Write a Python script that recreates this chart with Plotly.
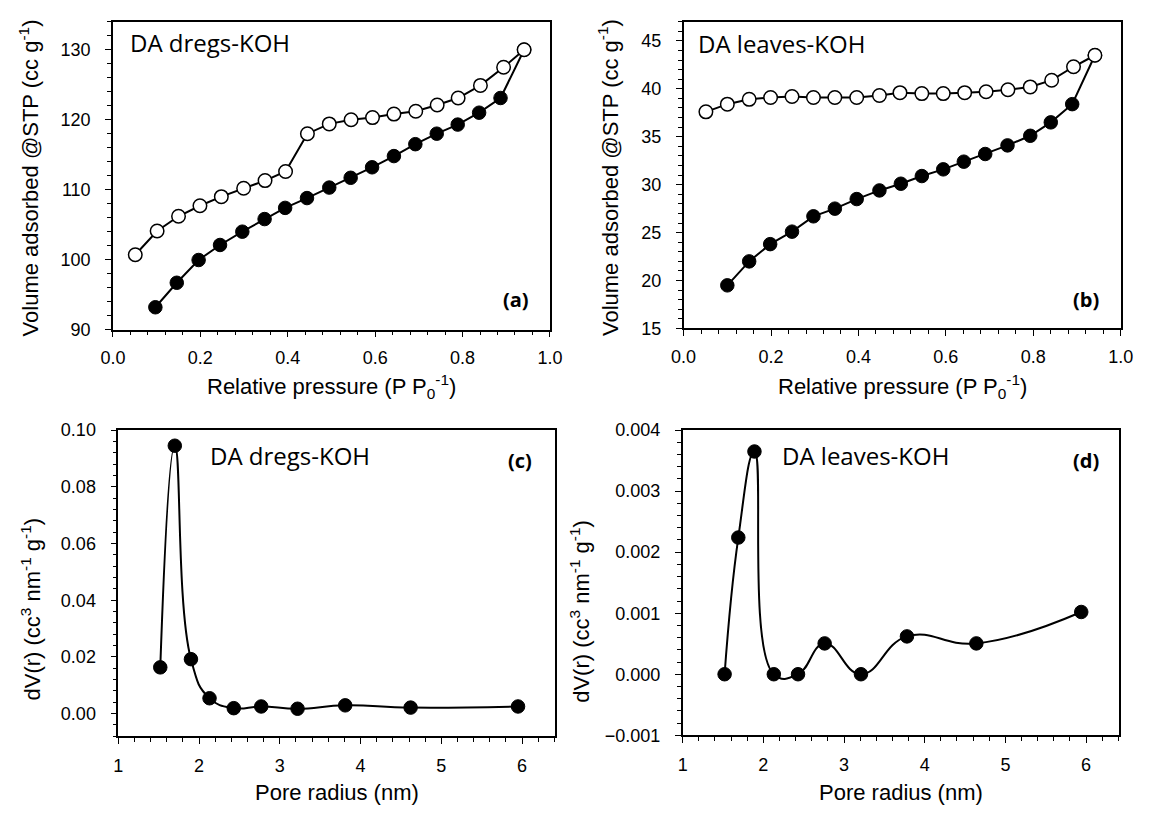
import plotly.graph_objects as go

W, H = 1152, 815

# ---------------- data ----------------
# (a) DA dregs-KOH isotherm
a_ads_x = [0.097, 0.146, 0.196, 0.245, 0.296, 0.347, 0.394, 0.444, 0.495, 0.544,
           0.593, 0.643, 0.692, 0.741, 0.789, 0.838, 0.887, 0.941]
a_ads_y = [93.2, 96.7, 99.95, 102.1, 104.0, 105.8, 107.4, 108.8, 110.3, 111.7,
           113.2, 114.8, 116.5, 118.0, 119.3, 121.0, 123.1, 130.0]
a_des_x = [0.051, 0.101, 0.150, 0.199, 0.248, 0.299, 0.348, 0.395, 0.445, 0.495,
           0.545, 0.594, 0.643, 0.693, 0.742, 0.790, 0.841, 0.894, 0.941]
a_des_y = [100.7, 104.1, 106.2, 107.7, 109.0, 110.2, 111.3, 112.6, 118.0, 119.4,
           120.0, 120.3, 120.8, 121.2, 122.1, 123.1, 124.9, 127.5, 130.0]

# (b) DA leaves-KOH isotherm
b_ads_x = [0.100, 0.150, 0.198, 0.248, 0.297, 0.346, 0.396, 0.448, 0.497, 0.545,
           0.594, 0.641, 0.690, 0.741, 0.793, 0.840, 0.889, 0.941]
b_ads_y = [19.5, 22.0, 23.8, 25.1, 26.7, 27.5, 28.5, 29.4, 30.1, 30.9,
           31.6, 32.4, 33.2, 34.1, 35.1, 36.5, 38.4, 43.5]
b_des_x = [0.051, 0.100, 0.150, 0.199, 0.248, 0.297, 0.346, 0.396, 0.448, 0.495,
           0.545, 0.594, 0.643, 0.692, 0.742, 0.793, 0.842, 0.892, 0.941]
b_des_y = [37.6, 38.4, 38.9, 39.1, 39.2, 39.1, 39.1, 39.1, 39.3, 39.6,
           39.5, 39.5, 39.6, 39.7, 39.9, 40.2, 40.9, 42.3, 43.5]

# (c) DA dregs-KOH pore size distribution
c_r = [1.52, 1.70, 1.90, 2.13, 2.43, 2.77, 3.22, 3.81, 4.62, 5.95]
c_dv = [0.0163, 0.0945, 0.0192, 0.0054, 0.0019, 0.0025, 0.0017, 0.0029, 0.0021, 0.0025]

# (d) DA leaves-KOH pore size distribution
d_r = [1.52, 1.69, 1.89, 2.13, 2.43, 2.76, 3.21, 3.78, 4.64, 5.94]
d_dv = [0.0, 0.00224, 0.00365, 0.0, 0.0, 0.000505, 0.0, 0.00062, 0.000505, 0.00102]

# labels
iso_xtitle = "Relative pressure (P P<sub>0</sub><sup>-1</sup>)"
iso_ytitle = "Volume adsorbed @STP (cc g<sup>-1</sup>)"
psd_xtitle = "Pore radius (nm)"
psd_ytitle = "dV(r) (cc<sup>3</sup> nm<sup>-1</sup> g<sup>-1</sup>)"
labels = ["DA dregs-KOH", "DA leaves-KOH", "DA dregs-KOH", "DA leaves-KOH"]
tags = ["(a)", "(b)", "(c)", "(d)"]

# ---------------- layout helpers ----------------
def fx(p):
    return p / W

def fy(p):
    return 1 - p / H

TICKFONT = dict(family="Liberation Sans, Arial, sans-serif", size=18, color="black")
TITLEFONT = dict(family="Liberation Sans, Arial, sans-serif", size=22, color="black")
LABFONT = dict(family="Open Sans, sans-serif", size=24, color="black")
PANFONT = dict(family="Open Sans, sans-serif", size=20, color="black")


def axis(domain, rng, dtick, mdtick, fmt, anchor, standoff):
    return dict(
        domain=domain, range=rng, anchor=anchor, dtick=dtick, tick0=0,
        tickformat=fmt, showgrid=False, zeroline=False,
        showline=True, linecolor="black", linewidth=1.5, mirror=True,
        ticks="outside", ticklen=6, tickwidth=1.4, tickcolor="black",
        tickfont=TICKFONT, ticklabelstandoff=standoff,
        minor=dict(ticks="outside", ticklen=4, tickwidth=1.2, tickcolor="black",
                   dtick=mdtick, tick0=0, showgrid=False),
        fixedrange=True,
    )


fig = go.Figure()

filled = dict(size=13.5, color="black", line=dict(color="black", width=1))
hollow = dict(size=13.5, color="white", line=dict(color="black", width=1.5))
ln = dict(color="black", width=2)

# (a)
fig.add_trace(go.Scatter(x=a_ads_x, y=a_ads_y, mode="lines+markers", line=ln,
                         marker=filled, xaxis="x", yaxis="y", showlegend=False))
fig.add_trace(go.Scatter(x=a_des_x, y=a_des_y, mode="lines+markers", line=ln,
                         marker=hollow, xaxis="x", yaxis="y", showlegend=False))
# (b)
fig.add_trace(go.Scatter(x=b_ads_x, y=b_ads_y, mode="lines+markers", line=ln,
                         marker=filled, xaxis="x2", yaxis="y2", showlegend=False))
fig.add_trace(go.Scatter(x=b_des_x, y=b_des_y, mode="lines+markers", line=ln,
                         marker=hollow, xaxis="x2", yaxis="y2", showlegend=False))
# (c)
fig.add_trace(go.Scatter(x=c_r, y=c_dv, mode="lines+markers",
                         line=dict(color="black", width=2, shape="spline", smoothing=1.3),
                         marker=filled, xaxis="x3", yaxis="y3", showlegend=False))
# (d)
fig.add_trace(go.Scatter(x=d_r, y=d_dv, mode="lines+markers",
                         line=dict(color="black", width=2, shape="spline", smoothing=1.3),
                         marker=filled, xaxis="x4", yaxis="y4", showlegend=False))

fig.update_layout(
    width=W, height=H, margin=dict(l=0, r=0, t=0, b=0),
    paper_bgcolor="white", plot_bgcolor="white",
    xaxis=axis([fx(102.3), fx(549.3)], [0, 1], 0.2, 0.04, ".1f", "y", 5),
    yaxis=axis([fy(327.7), fy(12)], [90, 134], 10, 2, "d", "x", 11),
    xaxis2=axis([fx(686.1), fx(1133.3)], [0, 1], 0.2, 0.04, ".1f", "y2", 5),
    yaxis2=axis([fy(326.5), fy(12)], [15, 47], 5, 1, "d", "x2", 11),
    xaxis3=axis([fx(107.7), fx(554.7)], [1, 6.41], 1, 0.2, "d", "y3", 6),
    yaxis3=axis([fy(744.5), fy(430.7)], [-0.008, 0.1], 0.02, 0.004, ".2f", "x3", 11),
    xaxis4=axis([fx(685.1), fx(1131.7)], [1, 6.41], 1, 0.2, "d", "y4", 6),
    yaxis4=axis([fy(743.5), fy(430.7)], [-0.001, 0.004], 0.001, 0.0002, ".3f", "x4", 11),
)

ann = []
def add_text(text, x, y, font, xanchor="center", yanchor="middle", angle=0):
    ann.append(dict(text=text, x=fx(x), y=fy(y), xref="paper", yref="paper",
                    showarrow=False, font=font, xanchor=xanchor, yanchor=yanchor,
                    textangle=angle))

# axis titles
add_text(iso_xtitle, 326, 386, TITLEFONT)
add_text(iso_xtitle, 910, 386, TITLEFONT)
add_text(psd_xtitle, 331, 802, TITLEFONT)
add_text(psd_xtitle, 909, 802, TITLEFONT)
add_text(iso_ytitle, 16, 172, TITLEFONT, angle=-90)
add_text(iso_ytitle, 609, 172, TITLEFONT, angle=-90)
add_text(psd_ytitle, 18, 614, TITLEFONT, angle=-90)
add_text(psd_ytitle, 580, 616, TITLEFONT, angle=-90)

# in-panel labels
add_text(labels[0], 118, 33, LABFONT, xanchor="left")
add_text(labels[1], 699, 34, LABFONT, xanchor="left")
add_text(labels[2], 200, 457, LABFONT, xanchor="left")
add_text(labels[3], 785, 457, LABFONT, xanchor="left")
add_text("<b>%s</b>" % tags[0], 530, 297, PANFONT, xanchor="right")
add_text("<b>%s</b>" % tags[1], 1113, 297, PANFONT, xanchor="right")
add_text("<b>%s</b>" % tags[2], 533, 462, PANFONT, xanchor="right")
add_text("<b>%s</b>" % tags[3], 1113, 462, PANFONT, xanchor="right")

fig.update_layout(annotations=ann)

fig.write_html("out.html")
